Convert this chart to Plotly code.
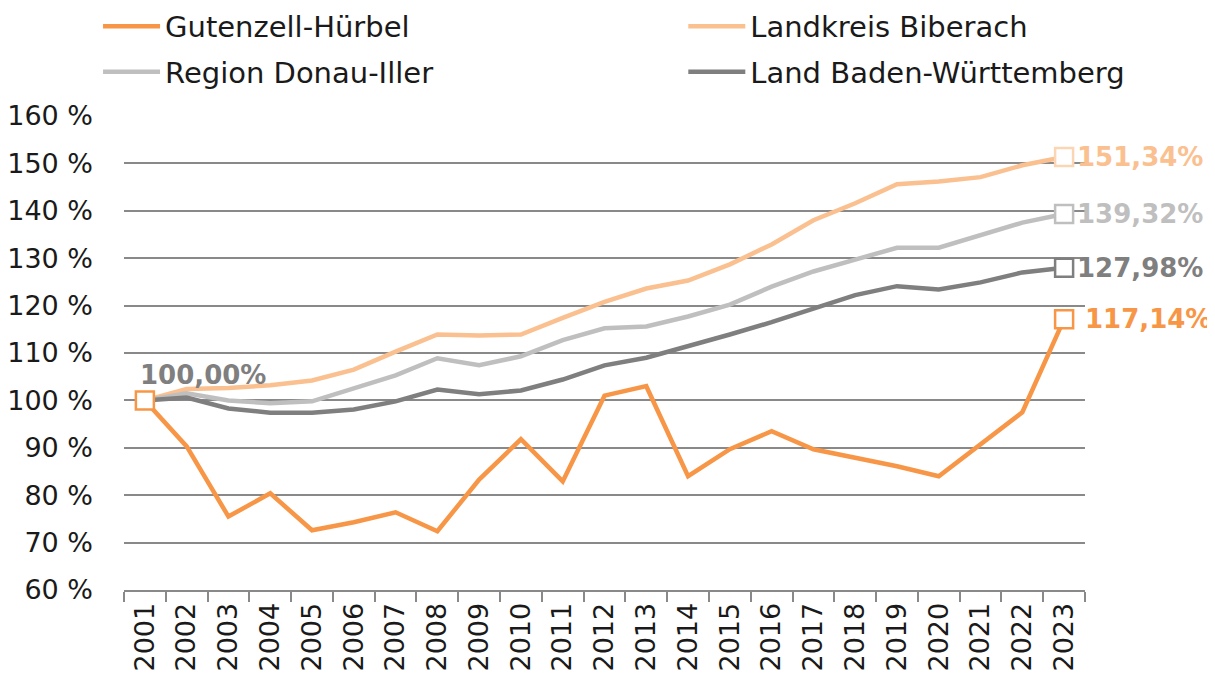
import plotly.graph_objects as go

# ================================
# Daten
# ================================
jahre = [str(j) for j in range(2001, 2024)]

gutenzell = [100.0, 90.3, 75.5, 80.4, 72.6, 74.3, 76.4, 72.4, 83.3, 91.8, 82.9, 101.0,
             103.0, 84.0, 89.7, 93.5, 89.7, 88.0, 86.1, 84.0, 90.7, 97.5, 117.14]
biberach = [100.0, 102.4, 102.6, 103.2, 104.2, 106.5, 110.3, 113.9, 113.7, 113.9, 117.4, 120.8,
            123.6, 125.3, 128.7, 132.9, 138.0, 141.6, 145.6, 146.2, 147.1, 149.6, 151.34]
donau_iller = [100.0, 101.5, 100.0, 99.4, 99.8, 102.5, 105.3, 108.9, 107.4, 109.3, 112.7, 115.2,
               115.6, 117.7, 120.2, 124.0, 127.2, 129.7, 132.2, 132.2, 134.8, 137.5, 139.32]
baden_wuerttemberg = [100.0, 100.6, 98.3, 97.4, 97.4, 98.1, 99.8, 102.3, 101.3, 102.1, 104.4, 107.4,
                      109.0, 111.4, 113.9, 116.5, 119.4, 122.2, 124.1, 123.4, 124.9, 127.0, 127.98]

namen = ['Gutenzell-Hürbel', 'Landkreis Biberach', 'Region Donau-Iller', 'Land Baden-Württemberg']
farben = ['#F79646', '#FAC090', '#BFBFBF', '#7F7F7F']
marker_farben = ['#F79646', '#FCD5B5', '#BFBFBF', '#7F7F7F']
reihen = [gutenzell, biberach, donau_iller, baden_wuerttemberg]
legenden = ['legend', 'legend2', 'legend', 'legend2']

FONT = 'DejaVu Sans'


def fmt(v):
    return f'{v:.2f}'.replace('.', ',') + '%'


# ================================
# Grafik
# ================================
fig = go.Figure()

for name, farbe, werte, leg in zip(namen, farben, reihen, legenden):
    fig.add_trace(go.Scatter(x=jahre, y=werte, name=name, mode='lines', legend=leg,
                             legendgroup=name, line=dict(color=farbe, width=4.5)))

# Endpunkte (2023)
letzter = len(jahre) - 1
for name, farbe, mfarbe, werte in zip(namen, farben, marker_farben, reihen):
    fig.add_trace(go.Scatter(x=[jahre[-1]], y=[werte[-1]], mode='markers', showlegend=False,
                             marker=dict(symbol='square', size=18, color='white',
                                         line=dict(color=mfarbe, width=2.5))))
    fig.add_annotation(x=letzter, y=werte[-1], text='<b>' + fmt(werte[-1]) + '</b>',
                       showarrow=False, xanchor='left', yanchor='middle',
                       xshift=11 if name != namen[0] else 19,
                       font=dict(family=FONT, size=26, color=farbe))

# Startpunkt (2001)
fig.add_trace(go.Scatter(x=[jahre[0]], y=[gutenzell[0]], mode='markers', showlegend=False,
                         marker=dict(symbol='square', size=18, color='white',
                                     line=dict(color=farben[0], width=2.5))))
fig.add_annotation(x=0, y=gutenzell[0], text='<b>' + fmt(gutenzell[0]) + '</b>',
                   showarrow=False, xanchor='left', yanchor='bottom', xshift=-7, yshift=8,
                   font=dict(family=FONT, size=26, color='#7F7F7F'))

# die Seite hat 8px Rand -> Ränder entsprechend verschoben
leg_stil = dict(orientation='v', yanchor='top', y=1.243, font=dict(size=29, color='#1a1a1a'),
                tracegroupgap=5, itemwidth=57, bgcolor='rgba(0,0,0,0)')
fig.update_layout(
    width=1215, height=679,
    margin=dict(l=116, r=138, t=108, b=97, autoexpand=False),
    plot_bgcolor='white', paper_bgcolor='white',
    font=dict(family=FONT, size=27, color='#1a1a1a'),
    legend=dict(x=-0.027, xanchor='left', **leg_stil),
    legend2=dict(x=0.582, xanchor='left', **leg_stil),
)
fig.update_xaxes(type='category', range=[-0.5, len(jahre) - 0.5], tickangle=-90,
                 tickson='boundaries', ticks='outside', ticklen=10, tickcolor='#898989',
                 tickwidth=2, showline=True, linecolor='#898989', linewidth=2, showgrid=False,
                 tickfont=dict(size=27))
fig.update_yaxes(range=[60, 160], dtick=10, ticksuffix=' %', showgrid=True, gridcolor='#898989',
                 gridwidth=1.5, zeroline=False, showline=False, ticks='', ticklabelstandoff=30,
                 tickfont=dict(size=27))

fig.write_html("out.html")
